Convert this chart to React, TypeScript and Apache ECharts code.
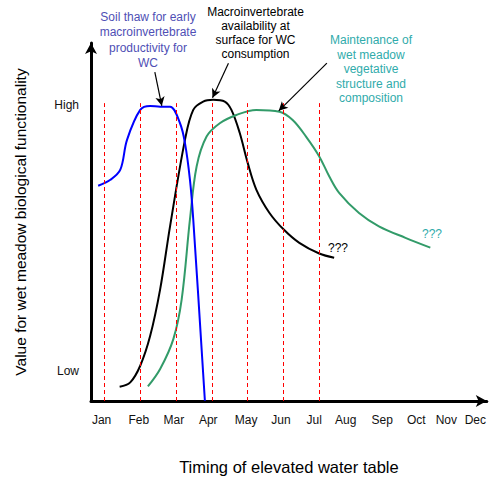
import React, { useEffect, useRef } from "react";
import * as echarts from "echarts";

const months = ["Jan", "Feb", "Mar", "Apr", "May", "Jun", "Jul", "Aug", "Sep", "Oct", "Nov", "Dec"];
const monthLabelPos = [-0.08, 0.96, 1.94, 2.9, 3.96, 4.93, 5.86, 6.74, 7.76, 8.71, 9.55, 10.36];
const dashedMonths = [0, 1, 2, 3, 4, 5, 6];
const dashedTop = 100.6;
const levelLabels = ["Low", "High"];
const levelValues = [10.2, 100];

const soilThaw: [number, number][] = [
  [-0.175, 72.7], [0.167, 74.7], [0.444, 78.1], [0.631, 88.2],
  [1.0, 98.3], [1.278, 99.6], [1.556, 99.4], [1.833, 99.4], [2.111, 93.8],
  [2.25, 87.1], [2.389, 74.7], [2.481, 61.3], [2.806, 0.1],
];
const macroAvail: [number, number][] = [
  [0.425, 4.8], [0.722, 6.3], [1.0, 11.9], [1.278, 22.0], [1.556, 37.7], [1.833, 59.0],
  [2.25, 88.2], [2.481, 98.3], [2.758, 101.1], [3.036, 101.7], [3.361, 101.1],
  [3.547, 98.3], [3.778, 90.6], [4.0, 80.5], [4.242, 71.4], [4.611, 63.5], [5.008, 57.9],
  [5.444, 53.4], [6.0, 49.8], [6.417, 48.4],
];
const vegStructure: [number, number][] = [
  [1.214, 4.9], [1.556, 10.8], [1.925, 20.9], [2.158, 34.3], [2.389, 61.3],
  [2.575, 79.2], [2.853, 89.3], [3.222, 93.8], [3.686, 96.6], [4.242, 98.3], [4.889, 97.7],
  [5.258, 94.9], [5.631, 89.3], [6.0, 82.6], [6.278, 75.9], [6.556, 70.3], [7.111, 63.5],
  [7.667, 59.0], [8.408, 55.1], [9.103, 51.8],
];

const arrowSoil = [[1.408, 111.1], [1.603, 99.7]];
const arrowMacro = [[3.464, 114.1], [3.019, 102.4]];
const arrowVeg = [[6.214, 114.1], [4.869, 98.0]];

const FONT = "'Liberation Sans', Arial, sans-serif";

export default function App() {
  const ref = useRef<HTMLDivElement>(null);
  useEffect(() => {
    if (!ref.current) return;
    const chart = echarts.init(ref.current, undefined, { renderer: "svg" });
    const arrowLine = (pts: number[][]) => ({
      silent: true,
      symbol: ["none", "arrow"],
      symbolSize: [7, 9],
      label: { show: false },
      emphasis: { disabled: true },
      lineStyle: { color: "#000", width: 1.2, type: "solid" },
      data: [[{ coord: pts[0] }, { coord: pts[1] }]],
    });
    const curve = (name: string, data: [number, number][], color: string, z: number, arrow: number[][]) => ({
      type: "line",
      name,
      data,
      symbol: "none",
      smooth: 0.35,
      color,
      itemStyle: { color },
      lineStyle: { color, width: 2 },
      z,
      markLine: arrowLine(arrow),
    });
    const option: any = {
      animation: false,
      grid: { left: 91, right: 0, top: 43, bottom: 78, containLabel: false },
      xAxis: {
        type: "value",
        min: -0.375,
        max: 10.6806,
        name: "Timing of elevated water table",
        nameLocation: "middle",
        nameGap: 57,
        nameTextStyle: { fontFamily: FONT, fontSize: 16.5, color: "#000" },
        axisLine: {
          show: true,
          onZero: false,
          symbol: ["none", "arrow"],
          symbolSize: [9, 11],
          lineStyle: { color: "#000", width: 3 },
        },
        axisTick: { show: false },
        splitLine: { show: false },
        axisLabel: {
          customValues: monthLabelPos,
          margin: 13,
          fontFamily: FONT,
          fontSize: 12,
          color: "#111",
          formatter: (v: number) => {
            const i = monthLabelPos.findIndex((p) => Math.abs(p - v) < 1e-6);
            return i >= 0 ? months[i] : "";
          },
        },
      },
      yAxis: {
        type: "value",
        min: 0,
        max: 120.9,
        name: "Value for wet meadow biological functionality",
        nameLocation: "middle",
        nameRotate: 90,
        nameGap: 63,
        nameTextStyle: { fontFamily: FONT, fontSize: 15.5, color: "#000" },
        axisLine: {
          show: true,
          onZero: false,
          symbol: ["none", "arrow"],
          symbolSize: [9, 11],
          lineStyle: { color: "#000", width: 3 },
        },
        axisTick: { show: false },
        splitLine: { show: false },
        axisLabel: {
          customValues: levelValues,
          margin: 12,
          fontFamily: FONT,
          fontSize: 12,
          color: "#111",
          formatter: (v: number) => {
            const i = levelValues.findIndex((p) => Math.abs(p - v) < 1e-6);
            return i >= 0 ? levelLabels[i] : "";
          },
        },
      },
      series: [
        {
          type: "line",
          name: "Month markers",
          data: [],
          symbol: "none",
          silent: true,
          z: 1,
          markLine: {
            silent: true,
            symbol: ["none", "none"],
            label: { show: false },
            emphasis: { disabled: true },
            lineStyle: { color: "#ff0000", width: 1, type: [4, 3] },
            data: dashedMonths.map((m) => [{ coord: [m, 0] }, { coord: [m, dashedTop] }]),
          },
        },
        curve("Macroinvertebrate availability", macroAvail, "#000000", 3, arrowMacro),
        curve("Vegetative structure", vegStructure, "#329b69", 3, arrowVeg),
        curve("Soil thaw", soilThaw, "#0000ff", 4, arrowSoil),
      ],
      graphic: [
        {
          type: "text",
          x: 148,
          y: 9.5,
          style: {
            text: "Soil thaw for early\nmacroinvertebrate\nproductivity for\nWC",
            textAlign: "center",
            textVerticalAlign: "top",
            font: `12px ${FONT}`,
            lineHeight: 15.3,
            fill: "#4f4fb5",
          },
        },
        {
          type: "text",
          x: 255.5,
          y: 5.3,
          style: {
            text: "Macroinvertebrate\navailability at\nsurface for WC\nconsumption",
            textAlign: "center",
            textVerticalAlign: "top",
            font: `12px ${FONT}`,
            lineHeight: 14,
            fill: "#000",
          },
        },
        {
          type: "text",
          x: 371,
          y: 32.8,
          style: {
            text: "Maintenance of\nwet meadow\nvegetative\nstructure and\ncomposition",
            textAlign: "center",
            textVerticalAlign: "top",
            font: `12px ${FONT}`,
            lineHeight: 14.5,
            fill: "#30abab",
          },
        },
        {
          type: "text",
          x: 338,
          y: 248,
          style: { text: "???", textAlign: "center", textVerticalAlign: "middle", font: `12px ${FONT}`, fill: "#000" },
        },
        {
          type: "text",
          x: 432,
          y: 234,
          style: { text: "???", textAlign: "center", textVerticalAlign: "middle", font: `12px ${FONT}`, fill: "#30abab" },
        },
      ],
    };
    chart.setOption(option);
    return () => chart.dispose();
  }, []);
  return <div ref={ref} style={{ width: 489, height: 480, position: "absolute", left: 0, top: 0 }} />;
}
